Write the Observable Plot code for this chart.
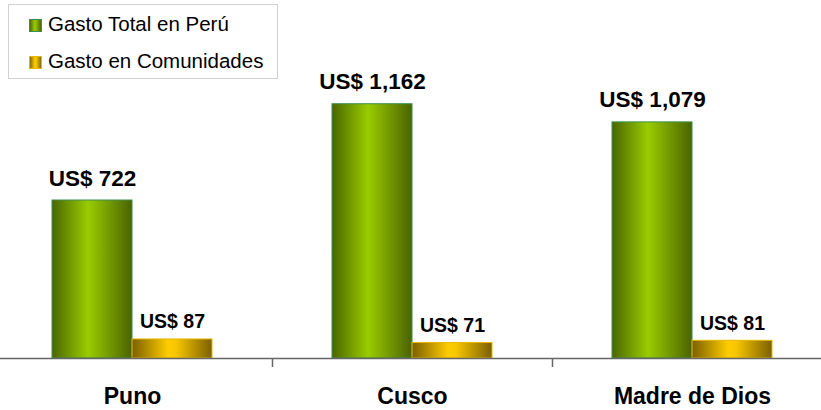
<!DOCTYPE html>
<html>
<head>
<meta charset="utf-8">
<script src="https://cdn.jsdelivr.net/npm/d3@7"></script>
<script src="https://cdn.jsdelivr.net/npm/@observablehq/plot@0.6"></script>
<style>
  body { margin: 0; background: #fff; }
  #wrap { position: relative; width: 821px; height: 410px; overflow: hidden; font-family: "Liberation Sans", Arial, sans-serif; }
  #legend { position: absolute; left: 0; top: 0; }
</style>
</head>
<body>
<div id="wrap"></div>
<script>
const regions = ["Puno", "Cusco", "Madre de Dios"];
const series = ["Gasto Total en Perú", "Gasto en Comunidades"];
const totalValues = [722, 1162, 1079];
const communityValues = [87, 71, 81];

const data = [];
regions.forEach((r, i) => {
  data.push({region: r, series: series[0], value: totalValues[i]});
  data.push({region: r, series: series[1], value: communityValues[i]});
});
const totals = data.filter(d => d.series === series[0]);
const comms = data.filter(d => d.series === series[1]);
const fmt = v => "US$ " + d3.format(",")(v);

const chart = Plot.plot({
  width: 821,
  height: 410,
  marginTop: 0,
  marginBottom: 52,
  marginLeft: -8,
  marginRight: -11,
  style: {fontFamily: "'Liberation Sans', Arial, sans-serif", background: "transparent", overflow: "visible"},
  fx: {domain: regions, padding: 0, axis: null, label: null},
  x: {domain: series, paddingInner: 0, paddingOuter: 0.75, axis: null},
  y: {domain: [0, 1636], axis: null},
  marks: [
    Plot.barY(totals, {fx: "region", x: "series", y: "value", fill: "url(#gGreen)", stroke: "#3a8f50", strokeWidth: 1}),
    Plot.barY(comms, {fx: "region", x: "series", y: "value", fill: "url(#gGold)", stroke: "#e8b800", strokeWidth: 1}),
    Plot.ruleY([0], {stroke: "#666", strokeWidth: 1.5}),
    Plot.axisFx({anchor: "bottom", label: null, tickSize: 9, dx: 140, tickFormat: () => "", stroke: "#666", strokeWidth: 1.5}),
    Plot.text(regions, {fx: d => d, text: d => d, frameAnchor: "bottom", lineAnchor: "bottom", dy: 45, fontSize: 23, fontWeight: "bold", fill: "#000"}),
    Plot.text(totals, {fx: "region", x: "series", y: "value", text: d => fmt(d.value), lineAnchor: "bottom", dy: -15, fontSize: 22.5, fontWeight: "bold", fill: "#000"}),
    Plot.text(comms, {fx: "region", x: "series", y: "value", text: d => fmt(d.value), lineAnchor: "bottom", dy: -11, fontSize: 19.5, fontWeight: "bold", fill: "#000"})
  ]
});

const defs = `
<defs>
  <linearGradient id="gGreen" x1="0" x2="1" y1="0" y2="0">
    <stop offset="0" stop-color="#4a6600"/>
    <stop offset="0.45" stop-color="#99cc00"/>
    <stop offset="1" stop-color="#4a6300"/>
  </linearGradient>
  <linearGradient id="gGold" x1="0" x2="1" y1="0" y2="0">
    <stop offset="0" stop-color="#7a5f00"/>
    <stop offset="0.45" stop-color="#ffcc00"/>
    <stop offset="0.55" stop-color="#f8c600"/>
    <stop offset="1" stop-color="#7a5f00"/>
  </linearGradient>
</defs>`;
d3.select(chart).insert("g", ":first-child").html(defs);
document.getElementById("wrap").appendChild(chart);

// Legend (overlay, top-left)
const legend = d3.select("#wrap").append("svg")
  .attr("id", "legend").attr("width", 300).attr("height", 90);
legend.append("rect").attr("x", 8.5).attr("y", 4.5).attr("width", 269).attr("height", 74)
  .attr("fill", "#fff").attr("stroke", "#d0d0d0");
const fills = ["url(#gGreen)", "url(#gGold)"];
const strokes = ["#3a8f50", "#e8b800"];
series.forEach((s, i) => {
  const baseY = 31 + i * 37;
  legend.append("rect").attr("x", 29.5).attr("y", baseY - 11.5).attr("width", 12).attr("height", 12)
    .attr("fill", fills[i]).attr("stroke", strokes[i]);
  legend.append("text").attr("x", 48).attr("y", baseY)
    .attr("font-family", "'Liberation Sans', Arial, sans-serif").attr("font-size", 20.5)
    .attr("fill", "#000").text(s);
});
</script>
</body>
</html>
